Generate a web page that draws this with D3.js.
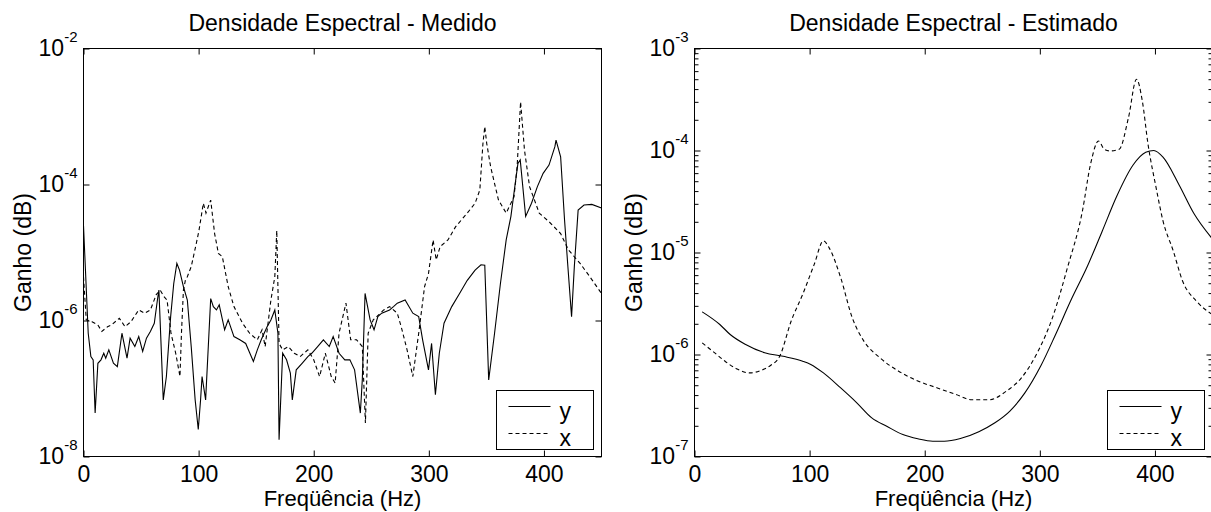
<!DOCTYPE html>
<html>
<head>
<meta charset="utf-8">
<script src="https://cdn.jsdelivr.net/npm/d3@7"></script>
<style>
  html, body { margin: 0; padding: 0; background: #fff; }
  svg { display: block; }
  text { font-family: "Liberation Sans", Arial, Helvetica, sans-serif; fill: #000; }
</style>
</head>
<body>
<svg id="chart" width="1211" height="512"></svg>
<script>
// ---------------- DATA ----------------
const xTickValues = [0, 100, 200, 300, 400];
const medidoYTicks = [1e-2, 1e-4, 1e-6, 1e-8];
const estimadoYTicks = [1e-3, 1e-4, 1e-5, 1e-6, 1e-7];
const legendLabels = ["y", "x"];
const titles = ["Densidade Espectral - Medido", "Densidade Espectral - Estimado"];
const xLabel = "Freqüência (Hz)";
const yLabel = "Ganho (dB)";

// Medido - y (solid)
const medidoYFreq = [0,4.1,6.4,8.4,10.1,12.5,15.2,17.6,19.3,22,26,29.4,33.4,37.8,40.5,44.6,48,51.4,54.7,58.1,61.5,64.2,65.5,69.3,72,75.7,78.4,81.1,83.4,86.8,90.2,93.6,97,99.7,101.7,103,106.1,110.5,112.8,115.5,117.9,122.6,125.7,130.7,135.8,140.9,147.6,151,154.4,159.5,162.8,166.2,168.9,169.9,173,176.4,179.7,181.4,184.8,189.9,194.9,198.3,203.4,208.4,213.5,216.9,222,227,231.4,235.5,240.5,242.2,244.6,249,252.4,255.7,259.1,265.9,269.3,272.6,279.4,286.1,291.2,294.6,299.7,302.4,305.7,309.1,313.2,319.9,326.7,333.4,340.2,345.3,348.6,352,357.1,362.2,367.2,371.3,374.7,377.4,379.4,384.1,389.2,394.3,399.3,404.4,409.5,410.5,414.5,417.9,420.6,424,426.4,429.7,434.8,441.6,450];
const medidoY = [2.5e-5,6.5e-7,2.95e-7,2.64e-7,4.35e-8,2.35e-7,2.64e-7,3.3e-7,2.79e-7,3.7e-7,2.35e-7,2.1e-7,6.5e-7,2.79e-7,5.5e-7,4.14e-7,5.8e-7,3.5e-7,5.5e-7,6.9e-7,9.1e-7,2.0e-6,2.8e-6,6.8e-8,1.5e-7,1.14e-6,3.5e-6,6.9e-6,5.5e-6,3.15e-6,2.0e-6,4.1e-7,6.8e-8,2.5e-8,6.8e-8,1.5e-7,6.8e-8,2.1e-6,1.6e-6,1.43e-6,1.7e-6,7.3e-7,1.02e-6,5.8e-7,5.2e-7,4.6e-7,2.5e-7,3.7e-7,5.2e-7,8.1e-7,1.02e-6,1.43e-6,6.5e-7,1.76e-8,3.3e-7,2.64e-7,1.68e-7,6.8e-8,1.88e-7,2.35e-7,2.95e-7,3.3e-7,4.14e-7,5.2e-7,4.14e-7,5.8e-7,3.3e-7,2.64e-7,2.64e-7,1.88e-7,4.35e-8,1.34e-7,2.5e-6,1.02e-6,7.3e-7,1.14e-6,1.28e-6,1.43e-6,1.6e-6,1.8e-6,2.0e-6,1.28e-6,1.14e-6,5.2e-7,1.88e-7,4.6e-7,8.1e-8,3.3e-7,9.1e-7,1.6e-6,2.5e-6,3.9e-6,5.5e-6,6.6e-6,6.5e-6,1.34e-7,6.5e-7,3.5e-6,1.53e-5,3.4e-5,9.3e-5,2.04e-4,2.3e-4,3.4e-5,5.3e-5,9.3e-5,1.46e-4,1.93e-4,3.6e-4,4.5e-4,2.56e-4,3.0e-5,6.9e-6,1.14e-6,6.2e-6,4.2e-5,5.0e-5,5.1e-5,4.5e-5];

// Medido - x (dashed)
const medidoXFreq = [0,2.4,7.4,12.5,15.9,20.9,24.3,31.1,36.1,41.2,48,53,58.1,63.2,66.6,69.9,72.6,76,80.1,83.8,85.1,86.8,88.5,90.2,93.6,98,100.3,104.1,106.4,110.5,113.9,117.2,120.6,125.7,130.7,138.2,144.3,151,155.1,157.8,162.8,166.2,167.9,169.9,173,178,183.1,188.2,194.9,200,205.1,210.1,215.2,218.6,222,228,232.1,237.2,242.2,244.9,247.3,251.7,260.8,265.9,272.6,276,281.1,286.1,291.2,296.3,299.7,303.7,306.4,309.8,316.6,323.3,333.4,340.2,344.3,347,348.6,350.3,353.7,360.5,367.2,374,376.7,379.7,383.1,387.5,395.9,404.4,414.5,421.3,431.4,439.9,450];
const medidoX = [4.4e-6,1.02e-6,9.6e-7,8.6e-7,6.9e-7,8.1e-7,8.6e-7,1.08e-6,8.1e-7,9.6e-7,1.43e-6,1.28e-6,1.43e-6,2.4e-6,2.8e-6,2.25e-6,2.0e-6,6.5e-7,3.3e-7,1.5e-7,6.5e-7,2.8e-6,3.9e-6,4.4e-6,6.2e-6,1.36e-5,2.1e-5,5.3e-5,3.8e-5,5.9e-5,1.9e-5,9.7e-6,8.7e-6,3.15e-6,1.6e-6,9.1e-7,6.5e-7,5.2e-7,7.3e-7,4.14e-7,2.0e-6,4.4e-6,2.1e-5,4.6e-7,3.7e-7,4.14e-7,3.3e-7,2.95e-7,3.7e-7,2.64e-7,1.5e-7,3.3e-7,1.5e-7,1.2e-7,6.5e-7,1.8e-6,5.2e-7,5.2e-7,4.14e-7,3.1e-8,6.5e-7,1.02e-6,1.43e-6,1.6e-6,1.28e-6,8.1e-7,3.7e-7,1.5e-7,6.5e-7,3.15e-6,4.9e-6,1.53e-5,7.8e-6,1.22e-5,1.53e-5,2.4e-5,3.8e-5,5.3e-5,8.3e-5,4.0e-4,7.1e-4,4.0e-4,1.82e-4,5.9e-5,3.8e-5,6.6e-5,1.82e-4,1.64e-3,3.2e-4,9.3e-5,3.8e-5,2.84e-5,1.9e-5,1.09e-5,6.9e-6,4.4e-6,2.5e-6];

// Estimado - y (solid)
const estimadoYFreq = [6.7,22,31,44,61,77,94,101,112,127,141,154,167,181,194,207,217,231,247,261,274,287,301,314,327,341,354,367,381,392,399,407,421,434,449];
const estimadoY = [2.62e-6,1.97e-6,1.57e-6,1.26e-6,1.04e-6,9.6e-7,8.6e-7,8.0e-7,6.6e-7,4.7e-7,3.36e-7,2.39e-7,1.98e-7,1.64e-7,1.49e-7,1.41e-7,1.41e-7,1.5e-7,1.75e-7,2.14e-7,2.79e-7,4.2e-7,7.8e-7,1.6e-6,3.4e-6,7.2e-6,1.6e-5,3.6e-5,7.2e-5,9.6e-5,1.0e-4,8.6e-5,4.6e-5,2.4e-5,1.4e-5];

// Estimado - x (dashed)
const estimadoXFreq = [6.7,17,27,37,48,58,66,74,84,94,104,112,117,127,137,147,161,177,194,211,227,241,256,271,284,297,311,324,337,344,351,356,361,369,377,384,389,394,401,407,416,424,436,449];
const estimadoX = [1.3e-6,1.05e-6,8.5e-7,7.2e-7,6.6e-7,7.0e-7,7.8e-7,9.6e-7,2.13e-6,3.89e-6,7.65e-6,1.3e-5,1.11e-5,5.66e-6,2.3e-6,1.36e-6,9.3e-7,6.9e-7,5.5e-7,4.7e-7,4.06e-7,3.6e-7,3.6e-7,4.38e-7,5.9e-7,1.0e-6,2.3e-6,7.1e-6,2.55e-5,7.3e-5,1.24e-4,1.03e-4,9.9e-5,1.03e-4,2.1e-4,5.0e-4,3.07e-4,1.15e-4,4.33e-5,2.04e-5,1.03e-5,5.25e-6,3.34e-6,2.5e-6];

// ---------------- DRAW ----------------
const svg = d3.select("#chart");
const FONT = 23;
const LABEL_FONT = 22;
const SUP = 15;

function drawPanel(cfg, idx) {
  const x = d3.scaleLinear().domain([0, 450]).range([cfg.left, cfg.right]);
  const y = d3.scaleLog().domain(cfg.yDomain).range([cfg.bottom, cfg.top]);
  const g = svg.append("g");

  const clipId = "clip" + idx;
  svg.append("clipPath").attr("id", clipId).append("rect")
    .attr("x", cfg.left).attr("y", cfg.top)
    .attr("width", cfg.right - cfg.left).attr("height", cfg.bottom - cfg.top);

  // series
  const line = d3.line().x(d => x(d[0])).y(d => y(d[1])).curve(cfg.curve);
  const dg = g.append("g").attr("clip-path", `url(#${clipId})`);
  dg.append("path").datum(d3.zip(cfg.yFreq, cfg.yVals))
    .attr("d", line).attr("fill", "none").attr("stroke", "#000").attr("stroke-width", 1.1);
  dg.append("path").datum(d3.zip(cfg.xFreq, cfg.xVals))
    .attr("d", line).attr("fill", "none").attr("stroke", "#000").attr("stroke-width", 1.1)
    .attr("stroke-dasharray", "4,3");

  // frame
  g.append("rect").attr("x", cfg.left).attr("y", cfg.top)
    .attr("width", cfg.right - cfg.left).attr("height", cfg.bottom - cfg.top)
    .attr("fill", "none").attr("stroke", "#000").attr("stroke-width", 1);

  // bottom axis
  const bx = g.append("g").attr("transform", `translate(0,${cfg.bottom})`)
    .call(d3.axisBottom(x).tickValues(xTickValues).tickSizeInner(-6).tickSizeOuter(0).tickPadding(9));
  bx.select(".domain").remove();
  bx.attr("font-family", null).attr("font-size", null);
  bx.selectAll("text").attr("font-size", FONT).attr("fill", "#000");
  // top axis
  const tx = g.append("g").attr("transform", `translate(0,${cfg.top})`)
    .call(d3.axisTop(x).tickValues(xTickValues).tickSizeInner(-6).tickSizeOuter(0).tickFormat(() => ""));
  tx.select(".domain").remove();

  // left axis with power labels
  const ly = g.append("g").attr("transform", `translate(${cfg.left},0)`)
    .call(d3.axisLeft(y).tickValues(cfg.yTicks).tickSizeInner(-6).tickSizeOuter(0).tickPadding(6).tickFormat(() => ""));
  ly.select(".domain").remove();
  ly.attr("font-family", null).attr("font-size", null);
  ly.selectAll(".tick text").each(function(d) {
    const t = d3.select(this).attr("font-size", FONT).attr("fill", "#000").attr("dy", "0.32em");
    t.text(null);
    t.append("tspan").text("10");
    t.append("tspan").attr("dy", -14).attr("font-size", SUP).text(String(Math.round(Math.log10(d))));
  });
  // right axis
  const ry = g.append("g").attr("transform", `translate(${cfg.right},0)`)
    .call(d3.axisRight(y).tickValues(cfg.yTicks).tickSizeInner(-6).tickSizeOuter(0).tickFormat(() => ""));
  ry.select(".domain").remove();

  if (cfg.minor) {
    const minorVals = [];
    cfg.yTicks.forEach(t => { for (let k = 2; k <= 9; k++) { const v = t * k; if (v < cfg.yDomain[1]) minorVals.push(v); } });
    const ml = g.append("g").attr("transform", `translate(${cfg.left},0)`)
      .call(d3.axisLeft(y).tickValues(minorVals).tickSizeInner(-4).tickSizeOuter(0).tickFormat(() => ""));
    ml.select(".domain").remove();
    const mr = g.append("g").attr("transform", `translate(${cfg.right},0)`)
      .call(d3.axisRight(y).tickValues(minorVals).tickSizeInner(-4).tickSizeOuter(0).tickFormat(() => ""));
    mr.select(".domain").remove();
  }
  g.selectAll(".tick line").attr("stroke", "#000");

  // title & labels
  const cx = (cfg.left + cfg.right) / 2;
  g.append("text").attr("x", cx).attr("y", 31).attr("text-anchor", "middle")
    .attr("font-size", FONT).text(cfg.title);
  g.append("text").attr("x", cx).attr("y", 506).attr("text-anchor", "middle")
    .attr("font-size", LABEL_FONT).text(xLabel);
  g.append("text").attr("transform", `translate(${cfg.left - 53},${(cfg.top + cfg.bottom) / 2}) rotate(-90)`)
    .attr("text-anchor", "middle").attr("font-size", FONT).text(yLabel);

  // legend
  const lx = cfg.right - 105, lyy = cfg.bottom - 66;
  const lg = g.append("g");
  lg.append("rect").attr("x", lx).attr("y", lyy).attr("width", 97).attr("height", 59)
    .attr("fill", "#fff").attr("stroke", "#000").attr("stroke-width", 1);
  const styles = [null, "4,3"];
  legendLabels.forEach((lab, i) => {
    const yy = lyy + 16 + i * 27;
    lg.append("line").attr("x1", lx + 12).attr("x2", lx + 54).attr("y1", yy).attr("y2", yy)
      .attr("stroke", "#000").attr("stroke-width", 1).attr("stroke-dasharray", styles[i]);
    lg.append("text").attr("x", lx + 63).attr("y", yy + 12).attr("font-size", FONT).text(lab);
  });
}

drawPanel({
  left: 83.5, right: 601.5, top: 48.5, bottom: 456.5,
  yDomain: [1e-8, 1e-2], yTicks: medidoYTicks, minor: false,
  title: titles[0], curve: d3.curveLinear,
  yFreq: medidoYFreq, yVals: medidoY, xFreq: medidoXFreq, xVals: medidoX
}, 0);

drawPanel({
  left: 694.5, right: 1212.5, top: 48.5, bottom: 456.5,
  yDomain: [1e-7, 1e-3], yTicks: estimadoYTicks, minor: true,
  title: titles[1], curve: d3.curveMonotoneX,
  yFreq: estimadoYFreq, yVals: estimadoY, xFreq: estimadoXFreq, xVals: estimadoX
}, 1);
</script>
</body>
</html>
